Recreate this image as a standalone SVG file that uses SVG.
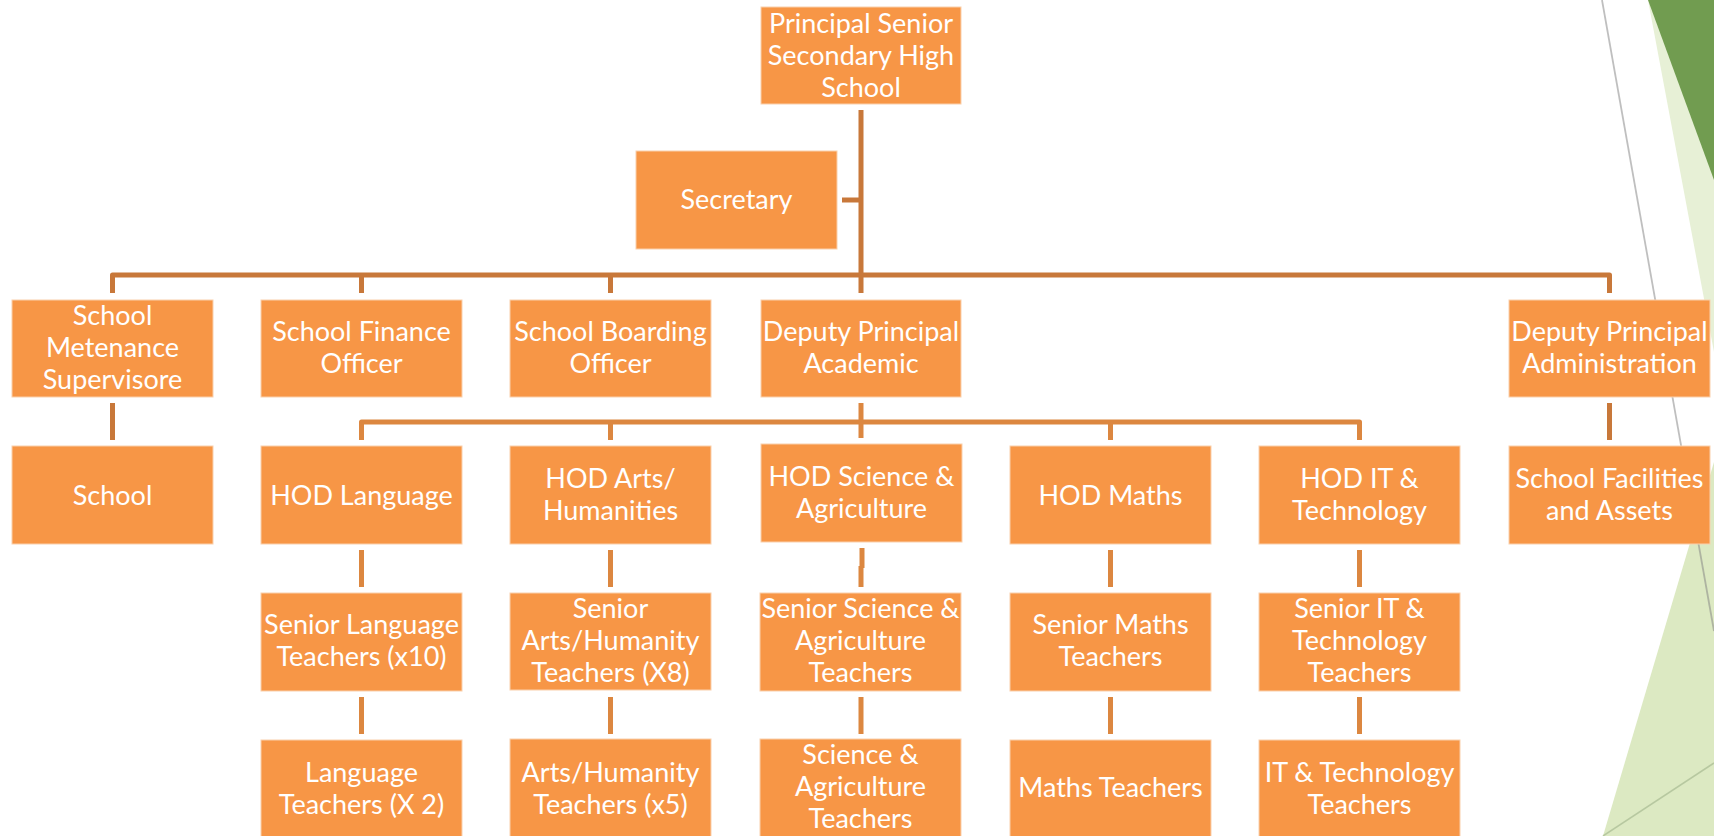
<svg xmlns="http://www.w3.org/2000/svg" width="1714" height="836" viewBox="0 0 1714 836">
  <style>
    .box { fill: #F79646; stroke: #FAD0AC; stroke-width: 1; }
    .t { font-family: Lato, "Open Sans", "Liberation Sans", sans-serif; font-size: 27px; fill: #FFFFFF; text-anchor: middle; }
    .c1 { fill: none; stroke: #C8783A; stroke-width: 5; stroke-linejoin: round; }
    .c2 { fill: none; stroke: #DC8740; stroke-width: 5; stroke-linejoin: round; }
  </style>
  <rect x="0" y="0" width="1714" height="836" fill="#FFFFFF"/>
  <g id="background">
    <polygon points="1648,0 1714,0 1714,352" fill="#E7F0D6"/>
    <polygon points="1648,0 1714,0 1714,180" fill="#719C50"/>
    <polygon points="1714,462 1603,836 1714,836" fill="#DCE9C2"/>
    <line x1="1603" y1="836" x2="1714" y2="763" stroke="#B7C8A0" stroke-width="1.5"/>
    <line x1="1602" y1="0" x2="1714" y2="631" stroke="#808080" stroke-opacity="0.5" stroke-width="1.8"/>
  </g>
  <g id="connectors">
    <path class="c1" d="M861,110 V293"/>
    <path class="c1" d="M842,200 H861"/>
    <path class="c1" d="M112.5,293 V275 H1609.5 V293"/>
    <path class="c1" d="M361.5,275 V293 M610.5,275 V293"/>
    <path class="c1" d="M112.5,403 V440"/>
    <path class="c1" d="M1609.5,403 V440"/>
    <path class="c2" d="M861,403 V438"/>
    <path class="c2" d="M361.5,440 V422 H1359.5 V440"/>
    <path class="c2" d="M610.5,422 V440 M1110.5,422 V440"/>
    <path class="c2" d="M361.5,550 V587 M610.5,550 V587 M1110.5,550 V587 M1359.5,550 V587"/>
    <path class="c2" d="M862,548 V568 M861,566 V587"/>
    <path class="c2" d="M361.5,697 V734 M610.5,697 V734 M861,697 V734 M1110.5,697 V734 M1359.5,697 V734"/>
  </g>
  <g id="principal">
    <rect class="box" x="761" y="7" width="200" height="97"/>
    <text class="t" x="861" y="32.5">Principal Senior</text>
    <text class="t" x="861" y="64.5">Secondary High</text>
    <text class="t" x="861" y="96.5">School</text>
  </g>
  <g id="secretary">
    <rect class="box" x="636" y="151" width="201" height="98"/>
    <text class="t" x="736.5" y="209">Secretary</text>
  </g>
  <g id="maintenance-supervisor">
    <rect class="box" x="12" y="300" width="201" height="97"/>
    <text class="t" x="112.5" y="325">School</text>
    <text class="t" x="112.5" y="357">Metenance</text>
    <text class="t" x="112.5" y="389">Supervisore</text>
  </g>
  <g id="finance-officer">
    <rect class="box" x="261" y="300" width="201" height="97"/>
    <text class="t" x="361.5" y="341">School Finance</text>
    <text class="t" x="361.5" y="373">Officer</text>
  </g>
  <g id="boarding-officer">
    <rect class="box" x="510" y="300" width="201" height="97"/>
    <text class="t" x="610.5" y="341">School Boarding</text>
    <text class="t" x="610.5" y="373">Officer</text>
  </g>
  <g id="deputy-academic">
    <rect class="box" x="761" y="300" width="200" height="97"/>
    <text class="t" x="861" y="341">Deputy Principal</text>
    <text class="t" x="861" y="373">Academic</text>
  </g>
  <g id="deputy-administration">
    <rect class="box" x="1509" y="300" width="201" height="97"/>
    <text class="t" x="1609.5" y="341">Deputy Principal</text>
    <text class="t" x="1609.5" y="373">Administration</text>
  </g>
  <g id="school">
    <rect class="box" x="12" y="446" width="201" height="98"/>
    <text class="t" x="112.5" y="505">School</text>
  </g>
  <g id="hod-language">
    <rect class="box" x="261" y="446" width="201" height="98"/>
    <text class="t" x="361.5" y="505">HOD Language</text>
  </g>
  <g id="hod-arts">
    <rect class="box" x="510" y="446" width="201" height="98"/>
    <text class="t" x="610.5" y="488">HOD Arts/</text>
    <text class="t" x="610.5" y="520">Humanities</text>
  </g>
  <g id="hod-science">
    <rect class="box" x="761" y="444" width="201" height="98"/>
    <text class="t" x="861.5" y="486">HOD Science &amp;</text>
    <text class="t" x="861.5" y="518">Agriculture</text>
  </g>
  <g id="hod-maths">
    <rect class="box" x="1010" y="446" width="201" height="98"/>
    <text class="t" x="1110.5" y="505">HOD Maths</text>
  </g>
  <g id="hod-it">
    <rect class="box" x="1259" y="446" width="201" height="98"/>
    <text class="t" x="1359.5" y="488">HOD IT &amp;</text>
    <text class="t" x="1359.5" y="520">Technology</text>
  </g>
  <g id="school-facilities">
    <rect class="box" x="1509" y="446" width="201" height="98"/>
    <text class="t" x="1609.5" y="488">School Facilities</text>
    <text class="t" x="1609.5" y="520">and Assets</text>
  </g>
  <g id="senior-language">
    <rect class="box" x="261" y="593" width="201" height="98"/>
    <text class="t" x="361.5" y="634">Senior Language</text>
    <text class="t" x="361.5" y="666">Teachers (x10)</text>
  </g>
  <g id="senior-arts">
    <rect class="box" x="510" y="593" width="201" height="97"/>
    <text class="t" x="610.5" y="618">Senior</text>
    <text class="t" x="610.5" y="650">Arts/Humanity</text>
    <text class="t" x="610.5" y="682">Teachers (X8)</text>
  </g>
  <g id="senior-science">
    <rect class="box" x="760" y="593" width="201" height="98"/>
    <text class="t" x="860.5" y="618">Senior Science &amp;</text>
    <text class="t" x="860.5" y="650">Agriculture</text>
    <text class="t" x="860.5" y="682">Teachers</text>
  </g>
  <g id="senior-maths">
    <rect class="box" x="1010" y="593" width="201" height="98"/>
    <text class="t" x="1110.5" y="634">Senior Maths</text>
    <text class="t" x="1110.5" y="666">Teachers</text>
  </g>
  <g id="senior-it">
    <rect class="box" x="1259" y="593" width="201" height="98"/>
    <text class="t" x="1359.5" y="618">Senior IT &amp;</text>
    <text class="t" x="1359.5" y="650">Technology</text>
    <text class="t" x="1359.5" y="682">Teachers</text>
  </g>
  <g id="language-teachers">
    <rect class="box" x="261" y="740" width="201" height="100"/>
    <text class="t" x="361.5" y="782">Language</text>
    <text class="t" x="361.5" y="814">Teachers (X 2)</text>
  </g>
  <g id="arts-teachers">
    <rect class="box" x="510" y="739" width="201" height="100"/>
    <text class="t" x="610.5" y="782">Arts/Humanity</text>
    <text class="t" x="610.5" y="814">Teachers (x5)</text>
  </g>
  <g id="science-teachers">
    <rect class="box" x="760" y="739" width="201" height="100"/>
    <text class="t" x="860.5" y="764">Science &amp;</text>
    <text class="t" x="860.5" y="796">Agriculture</text>
    <text class="t" x="860.5" y="828">Teachers</text>
  </g>
  <g id="maths-teachers">
    <rect class="box" x="1010" y="740" width="201" height="100"/>
    <text class="t" x="1110.5" y="797">Maths Teachers</text>
  </g>
  <g id="it-teachers">
    <rect class="box" x="1259" y="740" width="201" height="100"/>
    <text class="t" x="1359.5" y="782">IT &amp; Technology</text>
    <text class="t" x="1359.5" y="814">Teachers</text>
  </g>
</svg>
